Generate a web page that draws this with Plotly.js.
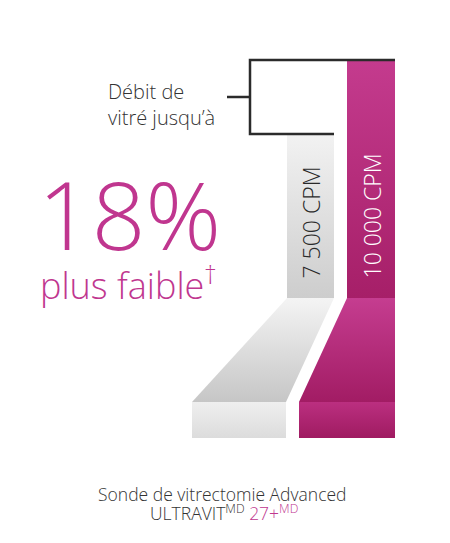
<!DOCTYPE html>
<html>
<head>
<meta charset="utf-8">
<script src="https://cdn.plot.ly/plotly-3.0.1.min.js"></script>
<style>html,body{margin:0;padding:0;background:#fff;}#chart{width:450px;height:543px;}</style>
</head>
<body>
<div id="chart"></div>
<script>
// ---- data ----
const speedsCPM = [7500, 10000];
const barLabels = ['7 500 CPM', '10 000 CPM'];
const bracketLabel = ['Débit de', 'vitré jusqu’à'];
const headlineValue = '18%';
const headlineText = 'plus faible';
const footnoteMark = '†';
const productLine1 = 'Sonde de vitrectomie Advanced';
const productName = 'ULTRAVIT';
const productModel = '27+';
const trademark = 'MD';

// ---- layout constants (pixels) ----
const W = 450, H = 543;
const BASE_PX = 356;            // pixel where 0 CPM would fall
const PX_PER_CPM = 296 / 10000; // vertical scale of the bars
const BAR_BOTTOM_PX = 298;
const SLANT_BOTTOM_PX = 402;
const BLOCK_BOTTOM_PX = 438;
const MAGENTA = '#c0368f';
const barX = [[287, 334], [347, 395]];         // vertical bar x-extent
const slantBottomX = [[192, 286], [299, 395]]; // bottom x-extent of slanted piece
// colour pairs: [top, bottom]
const fills = [
  {bar: ['#f2f2f2', '#cdcdcd'], slant: ['#f4f4f4', '#c6c6c6'], block: ['#efefef', '#dcdcdc'], text: '#2a2a2a'},
  {bar: ['#c43b8e', '#a61f68'], slant: ['#c53d90', '#a21c64'], block: ['#bb2f80', '#9f1b61'], text: '#ffffff'}
];

const yMinCPM = (BASE_PX - H) / PX_PER_CPM;
const yMaxCPM = BASE_PX / PX_PER_CPM;
const px2cpm = p => (BASE_PX - p) / PX_PER_CPM;

const traces = [];
function poly(xs, ys, colors, yaxis) {
  traces.push({
    type: 'scatter', mode: 'lines', x: xs.concat([xs[0]]), y: ys.concat([ys[0]]),
    yaxis: yaxis, fill: 'toself', line: {width: 0, color: 'rgba(0,0,0,0)'},
    fillcolor: colors[1],
    fillgradient: {type: 'vertical', colorscale: [[0, colors[1]], [1, colors[0]]]},
    hoverinfo: 'skip', showlegend: false
  });
}

speedsCPM.forEach((v, i) => {
  const [x0, x1] = barX[i];
  const [b0, b1] = slantBottomX[i];
  const f = fills[i];
  // bottom block and slanted piece, both on the CPM axis (converted from pixels)
  poly([b0, b1, b1, b0], [SLANT_BOTTOM_PX, SLANT_BOTTOM_PX, BLOCK_BOTTOM_PX, BLOCK_BOTTOM_PX].map(px2cpm), f.block, 'y2');
  poly([x0, x1, b1, b0], [BAR_BOTTOM_PX, BAR_BOTTOM_PX, SLANT_BOTTOM_PX, SLANT_BOTTOM_PX].map(px2cpm), f.slant, 'y2');
  // vertical bar: top at the value on the CPM axis
  const bot = px2cpm(BAR_BOTTOM_PX);
  poly([x0, x1, x1, x0], [bot, bot, v, v], f.bar, 'y2');
});

// bracket
const BR_X = 250;
traces.push({
  type: 'scatter', mode: 'lines', yaxis: 'y2',
  x: [barX[1][1], BR_X, BR_X, barX[0][1]],
  y: [speedsCPM[1], speedsCPM[1], speedsCPM[0], speedsCPM[0]],
  line: {color: '#2b2b2b', width: 2.5}, hoverinfo: 'skip', showlegend: false
});
traces.push({
  type: 'scatter', mode: 'lines', yaxis: 'y2',
  x: [227, BR_X],
  y: [(speedsCPM[0] + speedsCPM[1]) / 2, (speedsCPM[0] + speedsCPM[1]) / 2],
  line: {color: '#2b2b2b', width: 2.5}, hoverinfo: 'skip', showlegend: false
});

const font = 'Open Sans, sans-serif';
const annotations = [];
speedsCPM.forEach((v, i) => {
  annotations.push({
    x: (barX[i][0] + barX[i][1]) / 2, y: 281, xref: 'x', yref: 'y',
    text: barLabels[i], textangle: -90, showarrow: false,
    xanchor: 'center', yanchor: 'bottom',
    font: {family: font, size: 23, weight: 300, color: fills[i].text}
  });
});
annotations.push({
  x: 106, y: 104, xref: 'x', yref: 'y', text: bracketLabel.join('<br>'),
  showarrow: false, xanchor: 'left', yanchor: 'middle', align: 'left',
  font: {family: font, size: 20, weight: 300, color: '#333333'}
});
annotations.push({
  x: 36, y: 214, xref: 'x', yref: 'y', text: headlineValue,
  showarrow: false, xanchor: 'left', yanchor: 'middle',
  font: {family: font, size: 94, weight: 300, color: MAGENTA}
});
annotations.push({
  x: 38, y: 283, xref: 'x', yref: 'y', text: headlineText + '<sup>' + footnoteMark + '</sup>',
  showarrow: false, xanchor: 'left', yanchor: 'middle',
  font: {family: font, size: 36, weight: 300, color: MAGENTA}
});
annotations.push({
  x: 222, y: 494, xref: 'x', yref: 'y', text: productLine1,
  showarrow: false, xanchor: 'center', yanchor: 'middle', align: 'center',
  font: {family: font, size: 17.5, weight: 300, color: '#333333'}
});
annotations.push({
  x: 224, y: 512, xref: 'x', yref: 'y',
  text: productName + '<sup>' + trademark + '</sup> <span style="color:' + MAGENTA + '">' + productModel + '<sup>' + trademark + '</sup></span>',
  showarrow: false, xanchor: 'center', yanchor: 'middle', align: 'center',
  font: {family: font, size: 17.5, weight: 300, color: '#333333'}
});

const layout = {
  width: W, height: H, margin: {l: 0, r: 0, t: 0, b: 0, pad: 0},
  paper_bgcolor: '#ffffff', plot_bgcolor: '#ffffff', showlegend: false,
  xaxis: {range: [0, W], visible: false, fixedrange: true},
  yaxis: {range: [H, 0], visible: false, fixedrange: true},
  yaxis2: {range: [yMinCPM, yMaxCPM], overlaying: 'y', visible: false, fixedrange: true},
  annotations: annotations
};
Plotly.newPlot('chart', traces, layout, {staticPlot: true, displayModeBar: false});
</script>
</body>
</html>
